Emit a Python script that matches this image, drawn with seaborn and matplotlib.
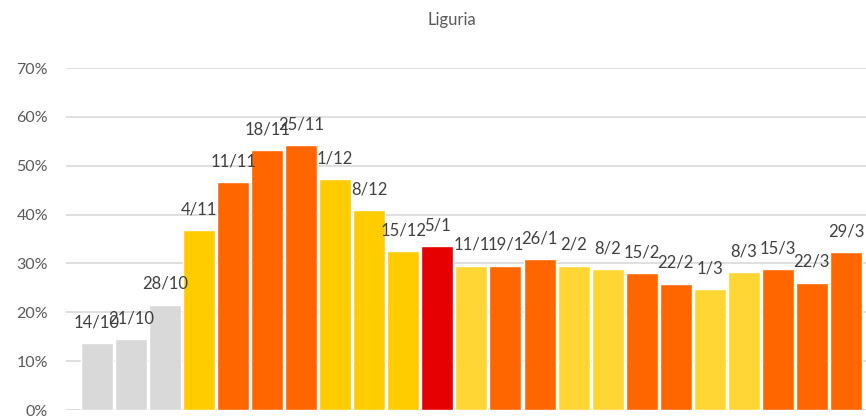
import matplotlib
matplotlib.use("Agg")
import matplotlib.pyplot as plt
import seaborn as sns
import pandas as pd
from matplotlib.ticker import PercentFormatter

weeks = ["14/10", "21/10", "28/10", "4/11", "11/11", "18/11", "25/11", "1/12",
         "8/12", "15/12", "5/1", "11/1", "19/1", "26/1", "2/2", "8/2", "15/2",
         "22/2", "1/3", "8/3", "15/3", "22/3", "29/3"]
values = [13.7, 14.5, 21.5, 36.8, 46.6, 53.2, 54.2, 47.2, 40.9, 32.5, 33.5,
          29.5, 29.5, 30.9, 29.5, 28.8, 28.0, 25.8, 24.7, 28.2, 28.8, 26.0, 32.3]
zones = ["grey", "grey", "grey", "yellow", "orange", "orange", "orange", "yellow",
         "yellow", "yellow", "red", "lightyellow", "orange", "orange", "lightyellow",
         "lightyellow", "orange", "orange", "lightyellow", "lightyellow", "orange",
         "orange", "orange"]

zone_colors = {"grey": "#D9D9D9", "yellow": "#FFCC00", "orange": "#FF6600",
               "red": "#E60000", "lightyellow": "#FFD633"}

df = pd.DataFrame({"week": weeks, "value": values, "zone": zones})

sns.set_theme(style="white")
plt.rcParams["font.family"] = ["Lato", "DejaVu Sans"]

fig = plt.figure(figsize=(8.66, 4.17), dpi=100)
ax = fig.add_axes([66 / 866, 7 / 417, 1 - 66 / 866, (410 - 68) / 417])

sns.barplot(data=df, x="week", y="value", hue="week",
            palette=[zone_colors[z] for z in zones], legend=False,
            width=0.94, saturation=1, ax=ax)

# week labels sit above each bar (they overlap in places, as in the original)
for i, (w, v) in enumerate(zip(weeks, values)):
    ax.annotate(w, (i, v), xytext=(0, 21), textcoords="offset pixels",
                ha="center", va="center", fontsize=12, color="#404040")

ax.set_ylim(0, 70)
ax.set_xlim(-0.91, 22.59)
ax.set_yticks(range(0, 71, 10))
ax.yaxis.set_major_formatter(PercentFormatter(decimals=0))
ax.tick_params(axis="y", colors="#595959", labelsize=11.5, length=0, pad=13)
ax.set_xticks([])
ax.set_xlabel("")
ax.set_ylabel("")
ax.grid(axis="y", color="#D9D9D9", linewidth=1.2)
ax.set_axisbelow(True)
for s in ax.spines.values():
    s.set_visible(False)

fig.text(452 / 866, 1 - 20 / 417, "Liguria", ha="center", va="center",
         fontsize=12, color="#595959")

fig.savefig("out.png", dpi=100)
